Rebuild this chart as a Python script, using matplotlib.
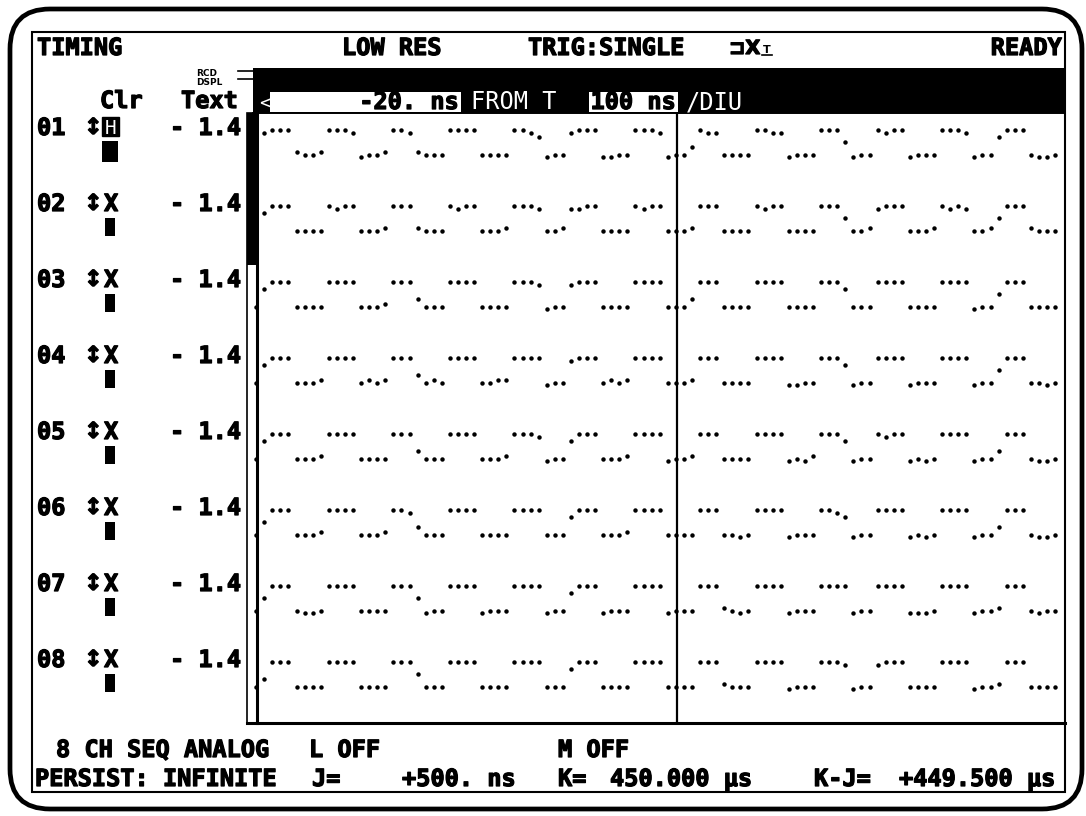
import matplotlib
matplotlib.use('Agg')
import numpy as np
import matplotlib.pyplot as plt
import matplotlib.patheffects as PathEffects
from matplotlib import font_manager
from matplotlib.patches import FancyBboxPatch, Rectangle

# screen texts
header = [('TIMING', 37), ('LOW RES', 342), ('TRIG:SINGLE', 528)]
status = 'READY'
channels = ['01', '02', '03', '04', '05', '06', '07', '08']
clr_marks = ['H', 'X', 'X', 'X', 'X', 'X', 'X', 'X']
thresholds = ['- 1.4'] * 8
delay_text, from_text = '-20. ns', 'FROM T'
div_text, per_div = '100 ns', '/DIU'
footer1 = [('8 CH SEQ ANALOG', 56), ('L OFF', 309), ('M OFF', 558)]
footer2 = [('PERSIST: INFINITE', 35), ('J=', 312), ('+500. ns', 402), ('K=', 558),
           ('450.000 µs', 610), ('K-J=', 814), ('+449.500 µs', 899)]

# time base
START_NS = -20
DIV_NS = 100
N_DIV = 10
J_NS = 500
SAMPLE_START_NS = -21
SAMPLE_STEP_NS = 10

# dot levels, one char per sample (spaces only for reading)
# H high, h just under high, f falling, m middle, r rising, l just over low, L low, d just under low
level_of = {'H': 1.0, 'h': 0.88, 'f': 0.72, 'm': 0.5, 'r': 0.3, 'l': 0.12, 'L': 0.0, 'd': -0.1}
traces = [
    "L hHHH lLLl HHHh dLLl HHh lLLL HHHH LLLL HHhf dLL hHHH ddLL HHHh dLLr Hhh LLLL HHhh dLLL HHHm dLL HhHH dLLL HHHh dLL fHHH LddL",
    "L fHHH LLLL HhHH LLLl HHH lLLL HhHH LLLl HHHh LLl hhHH LLLL HhHH LLLl HHH LLLL HhHH LLLL HHHm LLl hHHH LLLl HhHh LLl mHHH lLLL",
    "L fHHH LLLL HHHH LLLl HHH rLLL HHHH LLLL HHHh dLL hHHH LLLL HHHH LLLr HHH LLLL HHHH LLLL HHHf LLL HHHH LLLL HHHH dLL mHHH LLLL",
    "L fHHH LLLl HHHH LlLl HHH rLlL HHHH LLll HHHH dLL hHHH LlLl HHHH LLLl HHH LLLL HHHH ddLL HHHf dLL HHHH dLLL HHHH dLL mHHH LLdL",
    "L fHHH LLLl HHHH LLLL HHH rLLL HHHH LLLl HHHh dLL fHHH LLLl HHHH dLLl HHH LLLL HHHH dLdl HHHf dLL HhHH dLdL HHHH dLL rHHH LddL",
    "L mHHH LLLl HHHH LLLl HHh rLLL HHHH LLLL HHHH LLL fHHH LLLl HHHH LLLL HHH LLdL HHHH dLLL HHhf dLL HHHH dLdL HHHH dLL rHHH LddL",
    "L mHHH LddL HHHH LLLL HHH mdLL HHHH dLLL HHHH dLL fHHH dLLL HHHH dLLL HHH lLdL HHHH dLLL HHHH dLL HHHH dddL HHHH dLL lHHH LdLL",
    "L rHHH LLLL HHHH LLLL HHH mLLL HHHH LLLL HHHH LLL fHHH LLLL HHHH LLLL HHH lLLL HHHH dLLL HHHh dLL hHHH LLLL HHHH dLL lHHH LLLL",
]


def have_font(name):
    try:
        font_manager.findfont(font_manager.FontProperties(family=name), fallback_to_default=False)
        return True
    except ValueError:
        return False


if have_font('Liberation Sans Narrow'):
    SCREEN = ['Liberation Sans Narrow', 'DejaVu Sans']
    FS = 19
else:
    SCREEN = ['DejaVu Sans Mono', 'DejaVu Sans']
    FS = 17
HEAVY = [PathEffects.withStroke(linewidth=0.9, foreground='black')]

fig = plt.figure(figsize=(10.86, 8.16), dpi=100)
ax = fig.add_axes([0, 0, 1, 1])
ax.set_xlim(0, 1086)
ax.set_ylim(816, 0)
ax.axis('off')


def txt(x, y, s, heavy=True, **kw):
    opts = dict(family=SCREEN, fontsize=FS, fontweight='bold', color='black', va='baseline', ha='left')
    opts.update(kw)
    if heavy:
        opts['path_effects'] = HEAVY
    ax.text(x, y, s, **opts)


# outer bezel and screen frame
ax.add_patch(FancyBboxPatch((10, 9), 1072, 800, boxstyle='round,pad=0,rounding_size=40',
                            fc='none', ec='black', lw=3.4))
ax.add_patch(Rectangle((32, 32), 1033, 760, fc='none', ec='black', lw=1.5))

# header line
for s, x in header:
    txt(x, 55, s)
txt(1062, 55, status, ha='right')
txt(729, 54, '⊐X', family=['DejaVu Sans'], fontsize=14)
txt(763, 53, 'T', family=['DejaVu Sans'], fontsize=8, heavy=False)
ax.plot([762, 772], [55, 55], color='black', lw=1.2)

# RCD / DSPL tags
txt(196, 76, 'RCD', family=['DejaVu Sans'], fontsize=6.5, heavy=False)
txt(196, 85, 'DSPL', family=['DejaVu Sans'], fontsize=6.5, heavy=False)
ax.plot([238, 253], [71, 71], color='black', lw=1.2)
ax.plot([238, 253], [79, 79], color='black', lw=1.2)

# column heads
txt(100, 108, 'Clr')
txt(181, 108, 'Text')

# black menu bar with the time base fields
ax.add_patch(Rectangle((253, 68), 812, 45, fc='black', ec='none'))
ax.add_patch(Rectangle((270, 92), 191, 20, fc='white', ec='none'))
ax.add_patch(Rectangle((589, 92), 89, 20, fc='white', ec='none'))
txt(259, 109, '<', color='white', fontweight='normal', fontsize=14, heavy=False)
txt(459, 109, delay_text, ha='right')
txt(471, 109, from_text, color='white', fontweight='normal', heavy=False)
txt(676, 109, div_text, ha='right')
txt(686, 109, per_div, color='white', fontweight='normal', heavy=False)

# channel labels
ROW0, ROW_PX = 135, 76
for i, (name, mark, thr) in enumerate(zip(channels, clr_marks, thresholds)):
    yb = ROW0 + ROW_PX * i
    txt(37, yb, name)
    txt(84, yb - 1, '↕', family=['DejaVu Sans'], fontsize=16)
    if i == 0:
        ax.add_patch(Rectangle((102, yb - 18), 17, 19, fc='black', ec='black', lw=1))
        txt(110.5, yb - 1.5, mark, color='white', fontweight='normal', ha='center', fontsize=14, heavy=False)
        ax.add_patch(Rectangle((102, yb + 6), 16, 21, fc='black', ec='none'))
    else:
        txt(104, yb, mark)
        ax.add_patch(Rectangle((105, yb + 7), 10, 18, fc='black', ec='none'))
    txt(170, yb, thr)

# scroll bar and plot frame
ax.add_patch(Rectangle((247, 113), 10, 610, fc='none', ec='black', lw=1.2))
ax.add_patch(Rectangle((247, 113), 10, 152, fc='black', ec='none'))
ax.plot([256.5, 256.5], [113, 723], color='black', lw=2.2)
ax.plot([253, 1065], [113, 113], color='black', lw=1.4)
ax.plot([247, 1065], [723, 723], color='black', lw=2.2)

# footer
for s, x in footer1:
    txt(x, 757, s)
for s, x in footer2:
    txt(x, 786, s)

# waveform area, time in ns, channels stacked downward
x0, x1, y0, y1 = 257, 1064, 113, 723
wav = fig.add_axes([x0 / 1086, 1 - y1 / 816, (x1 - x0) / 1086, (y1 - y0) / 816])
wav.set_xlim(START_NS, START_NS + N_DIV * DIV_NS)
wav.set_ylim((y1 - y0) / ROW_PX, 0)
wav.axis('off')
LOW_Y, SWING = 0.55, 0.33
for c, trace in enumerate(traces):
    lv = np.array([level_of[ch] for ch in trace.replace(' ', '')])
    t = SAMPLE_START_NS + SAMPLE_STEP_NS * np.arange(len(lv))
    wav.plot(t, c + LOW_Y - SWING * lv, ls='none', marker='o', ms=3.2, mew=0,
             color='black', clip_on=False)
wav.axvline(J_NS, color='black', lw=1.6)

fig.savefig('out.png', dpi=100)
